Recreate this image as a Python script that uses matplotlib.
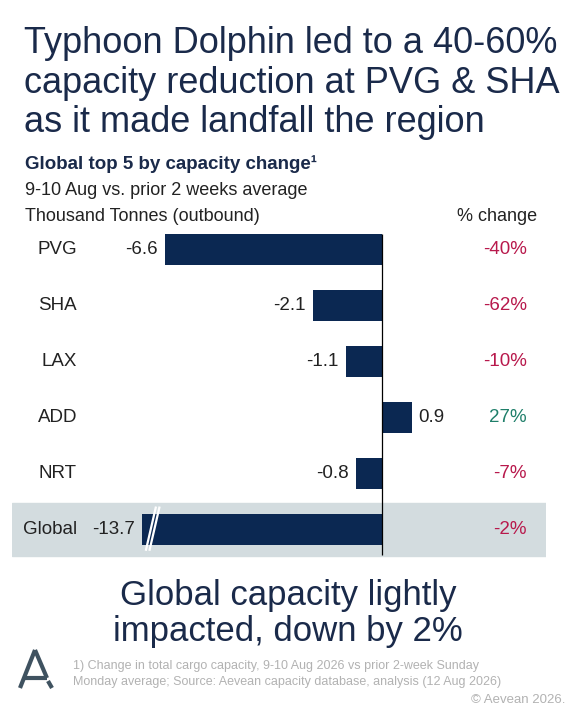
import matplotlib
matplotlib.use("Agg")
import matplotlib.pyplot as plt
from matplotlib.lines import Line2D

plt.rcParams["font.family"] = ["Liberation Sans", "DejaVu Sans"]

AIRPORTS = ["PVG", "SHA", "LAX", "ADD", "NRT", "Global"]
CHANGE_KT = [-6.6, -2.1, -1.1, 0.9, -0.8, -13.7]
CHANGE_PCT = [-40, -62, -10, 27, -7, -2]

TITLE = [
    "Typhoon Dolphin led to a 40-60%",
    "capacity reduction at PVG & SHA",
    "as it made landfall the region",
]
TAKEAWAY = ["Global capacity lightly", "impacted, down by 2%"]
FOOTNOTE = [
    "1) Change in total cargo capacity, 9-10 Aug 2026 vs prior 2-week Sunday",
    "Monday average; Source: Aevean capacity database, analysis (12 Aug 2026)",
]

NAVY = "#0b2852"
TEXT_NAVY = "#1a2a4a"
RED = "#b8194c"
GREEN = "#1f7f6a"
BAND = "#d3dcdf"
GREY = "#b2b2b2"
BREAK_AT = -7.3  # global bar is cut here

W, H = 576, 720


def fx(px):
    return px / W


def fy(py):
    return 1 - py / H


def main():
    fig = plt.figure(figsize=(W / 100, H / 100), dpi=100)

    for line, base in zip(TITLE, [53, 93, 132]):
        fig.text(fx(24), fy(base), line, fontsize=26, color=TEXT_NAVY, va="baseline")

    fig.text(fx(25), fy(169), "Global top 5 by capacity change\u00b9", fontsize=13.5,
             fontweight="bold", color=TEXT_NAVY, va="baseline")
    fig.text(fx(25), fy(195), "9-10 Aug vs. prior 2 weeks average", fontsize=13,
             color="#222222", va="baseline")
    fig.text(fx(25), fy(221), "Thousand Tonnes (outbound)", fontsize=13,
             color="#222222", va="baseline")
    fig.text(fx(537), fy(221), "% change", fontsize=13, color="#222222",
             va="baseline", ha="right")

    # axes: x from 12 to 546 px, rows from 221.5 to 557.5 px
    ax = fig.add_axes([fx(12), fy(557.5), fx(546) - fx(12), (557.5 - 221.5) / H])
    scale = 32.9
    ax.set_xlim((12 - 382) / scale, (546 - 382) / scale)
    ax.set_ylim(len(AIRPORTS) - 0.5, -0.5)
    ax.axis("off")

    gi = AIRPORTS.index("Global")
    ax.axhspan(gi - 0.48, gi + 0.48, color=BAND, zorder=0)

    shown = [max(v, BREAK_AT) for v in CHANGE_KT]
    ax.barh(range(len(AIRPORTS)), shown, height=0.55, color=NAVY, zorder=2)
    ax.vlines(0, -0.28, gi + 0.46, color="black", lw=0.9, zorder=3)

    for i, (name, v, s, p) in enumerate(zip(AIRPORTS, CHANGE_KT, shown, CHANGE_PCT)):
        ax.text(0.1217, i, name, transform=ax.get_yaxis_transform(), ha="right",
                va="center", fontsize=13.5, color="#222222")
        off = -5 if v < 0 else 5
        ax.annotate(f"{v:.1f}", (s, i), xytext=(off, 0), textcoords="offset points",
                    ha="right" if v < 0 else "left", va="center", fontsize=13.5,
                    color="#222222")
        ax.text(0.9644, i, f"{p}%", transform=ax.get_yaxis_transform(), ha="right",
                va="center", fontsize=13.5, color=GREEN if p > 0 else RED)

    # break marks on the global bar
    for dx in (0.0, 0.11):
        ax.plot([BREAK_AT + 0.12 + dx, BREAK_AT + 0.43 + dx], [gi + 0.38, gi - 0.41],
                color="white", lw=1.6, zorder=4, solid_capstyle="butt")

    for line, base in zip(TAKEAWAY, [605, 641]):
        fig.text(0.5, fy(base), line, fontsize=25, color=TEXT_NAVY, ha="center",
                 va="baseline")

    for line, c in zip(FOOTNOTE, [666, 682]):
        fig.text(fx(73), fy(c), line, fontsize=9, color=GREY, va="center")
    fig.text(fx(565), fy(700), "\u00a9 Aevean 2026.", fontsize=9.5, color=GREY,
             va="center", ha="right")

    # logo
    logo = "#3f5260"
    for xs, ys in [((35, 20), (650, 688)), ((35, 47), (650, 678)),
                   ((24, 47), (678, 678)), ((48, 52), (681, 688))]:
        fig.add_artist(Line2D([fx(x) for x in xs], [fy(y) for y in ys], color=logo,
                              lw=3, solid_capstyle="butt"))

    fig.savefig("out.png", dpi=100)


if __name__ == "__main__":
    main()
